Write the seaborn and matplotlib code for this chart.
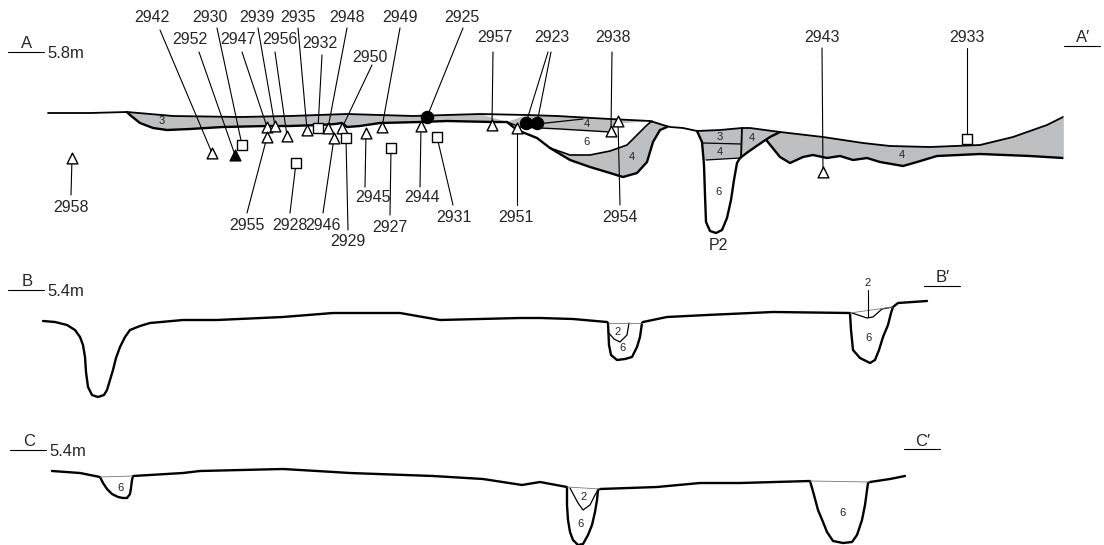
import pandas as pd
import matplotlib.pyplot as plt
import seaborn as sns

# section drawing, in drawing units (x along section, y downwards)

# ---- section A ----
a_surface_x = [48, 90, 127, 173, 240, 290, 347, 413, 480, 527, 557, 610, 650, 663, 670, 683, 697,
               720, 742, 750, 780, 823, 863, 890, 930, 980, 1013, 1047, 1063]
a_surface_y = [113, 113, 112, 116, 117, 116, 114, 116, 114, 115, 116, 119, 121, 125, 127, 128, 131,
               130, 128, 128, 132, 137, 143, 146, 147, 145, 137, 125, 117]

a_layer3_base_x = [127, 130, 140, 153, 167, 190, 223, 267, 290, 320, 335, 342, 347, 360, 380, 420, 447, 493, 507]
a_layer3_base_y = [112, 115, 123, 128, 130, 129, 127, 126, 126, 125, 124, 123, 127, 126, 123, 122, 121, 122, 122]

a_layer4_base_x = [507, 520, 560, 610, 615, 650]
a_layer4_base_y = [122, 127, 129, 132, 124, 121]

a_cut_x = [507, 517, 537, 550, 570, 590, 610, 623, 637, 647, 653, 660, 667]
a_cut_y = [122, 130, 138, 148, 160, 167, 173, 177, 173, 162, 142, 130, 127]

a_fill4_top_x = [550, 570, 590, 610, 627, 637, 647, 652, 658, 663, 667]
a_fill4_top_y = [148, 155, 155, 151, 145, 135, 125, 121, 122, 125, 127]

a_split_x = [537, 583]
a_split_y = [124, 119]

p2_x = [780, 770, 758, 748, 740, 737, 734, 731, 727, 722, 716, 710, 706, 705, 704, 702, 697]
p2_y = [132, 137, 145, 152, 158, 163, 180, 200, 218, 230, 233, 231, 222, 195, 165, 142, 131]

p2_layer_x = [703, 741]
p2_layer_y = [143, 144]
p2_base_x = [706, 740]
p2_base_y = [160, 158]
p2_wall_x = [742, 741]
p2_wall_y = [128, 158]

a_base4_x = [1063, 1030, 980, 937, 917, 903, 880, 867, 853, 840, 827, 813, 803, 790, 780, 767]
a_base4_y = [158, 156, 154, 156, 162, 166, 162, 158, 160, 156, 158, 155, 157, 163, 157, 141]

# ---- section B ----
b_surface_x = [43, 55, 67, 75, 80, 83, 85, 86, 88, 92, 98, 104, 107, 110, 113, 116, 120, 125, 130, 140,
               150, 183, 217, 283, 333, 400, 440, 520, 540,
               573, 607, 608, 609, 611, 617, 625, 632, 637, 640, 642, 643, 667, 707, 773, 850,
               851, 853, 860, 870, 875, 879, 883, 888, 891, 893, 898, 927]
b_surface_y = [321, 322, 325, 330, 337, 345, 357, 372, 387, 395, 397, 395, 390, 380, 370, 358, 347, 337, 330, 326,
               323, 320, 320, 317, 313, 313, 320, 318, 318,
               319, 322, 323, 345, 355, 360, 359, 357, 347, 337, 323, 322, 317, 315, 312, 313,
               330, 350, 358, 363, 360, 350, 337, 325, 313, 307, 303, 301]
b_fill2a_x = [608, 614, 620, 627, 629]
b_fill2a_y = [332, 339, 342, 335, 323]
b_fill2b_x = [852, 867, 873, 882, 893]
b_fill2b_y = [313, 318, 317, 309, 307]

# ---- section C ----
c_surface_x = [52, 80, 100, 103, 107, 112, 118, 123, 127, 130, 131, 132, 133, 183, 200, 283, 317, 350,
               433, 483, 522, 540,
               567, 567, 568, 570, 573, 578, 583, 588, 592, 595, 597, 598, 600, 657, 700, 740, 810,
               814, 818, 823, 827, 833, 843, 852, 857, 862, 865, 868, 870, 890, 905]
c_surface_y = [471, 473, 477, 483, 489, 494, 497, 498, 498, 494, 488, 480, 476, 473, 471, 469, 471, 473,
               476, 479, 485, 482,
               487, 505, 520, 532, 540, 545, 544, 535, 525, 512, 500, 490, 489, 487, 483, 483, 481,
               495, 510, 522, 532, 541, 543, 542, 535, 520, 505, 483, 482, 479, 476]
c_fill2_x = [570, 578, 583, 590, 595, 598]
c_fill2_y = [488, 503, 510, 505, 495, 490]

# ---- finds ----
find_id = ['2958', '2942', '2952', '2930', '2947', '2939', '2955', '2956', '2935', '2932', '2948',
           '2950', '2946', '2929', '2945', '2949', '2927', '2944', '2925', '2931', '2957', '2923',
           '2923', '2951', '2938', '2954', '2943', '2933', '2928']
find_kind = ['tri', 'tri', 'tri_f', 'sq', 'tri', 'tri', 'tri', 'tri', 'tri', 'sq', 'tri',
             'tri', 'tri', 'sq', 'tri', 'tri', 'sq', 'tri', 'dot', 'sq', 'tri', 'dot',
             'dot', 'tri', 'tri', 'tri', 'tri', 'sq', 'sq']
find_x = [72, 212, 235, 242, 267, 275, 267, 287, 307, 318, 328, 342, 334, 346, 366, 382, 391, 421,
          427, 437, 492, 526, 537, 517, 611, 618, 823, 967, 296]
find_y = [158, 153, 155, 145, 127, 126, 137, 136, 130, 128, 128, 128, 138, 138, 133, 127, 148, 126,
          117, 137, 125, 123, 123, 128, 131, 121, 172, 139, 163]
lead_x = [71, 160, 199, 217, 242, 258, 247, 275, 298, 322, 347, 372, 323, 348, 365, 400, 390, 420,
          463, 453, 493, 548, 551, 517, 612, 620, 822, 967, 290]
lead_y = [195, 30, 52, 28, 52, 28, 213, 52, 28, 55, 28, 65, 213, 230, 187, 28, 215, 187,
          28, 205, 52, 52, 52, 205, 52, 205, 48, 48, 213]

label_id = ['2942', '2930', '2939', '2935', '2948', '2952', '2947', '2956', '2932', '2950', '2949',
            '2925', '2957', '2923', '2938', '2943', '2933', '2958', '2955', '2928', '2946', '2929',
            '2945', '2944', '2927', '2931', '2951', '2954', 'P2']
label_x = [152, 210, 257, 298, 347, 190, 238, 280, 320, 370, 400, 462, 495, 552, 613, 822, 967, 71,
           247, 290, 323, 348, 373, 422, 390, 454, 516, 620, 718]
label_y = [18, 18, 18, 18, 18, 40, 40, 40, 44, 57, 18, 18, 38, 38, 38, 38, 38, 207,
           225, 225, 225, 242, 198, 198, 228, 217, 217, 217, 246]

layer_no = ['3', '4', '6', '4', '3', '4', '6', '4', '4', '2', '6', '2', '6', '6', '2', '6', '6']
layer_x = [162, 587, 587, 632, 720, 720, 718, 752, 902, 618, 623, 868, 868, 120, 584, 581, 842]
layer_y = [121, 124, 142, 157, 137, 152, 192, 138, 155, 332, 348, 283, 338, 488, 497, 524, 513]

sections = ['A', 'B', 'C']
section_level = ['5.8m', '5.4m', '5.4m']
sec_x = [27, 27, 29]
sec_y = [44, 282, 442]
end_x = [1083, 943, 923]
end_y = [38, 278, 441]

GREY = '#bebfc1'
sns.set_style('white')
plt.rcParams['font.family'] = ['Liberation Sans', 'DejaVu Sans']

fig = plt.figure(figsize=(11.04, 5.45), dpi=100)
ax = fig.add_axes([0, 0, 1, 1])
ax.set_xlim(0, 1104)
ax.set_ylim(545, 0)
ax.axis('off')


def outline(xs, ys, lw=1.7, color='black', z=3):
    sns.lineplot(x=xs, y=ys, sort=False, estimator=None, color=color, lw=lw, ax=ax, zorder=z)


def band(top_x, top_y, bot_x, bot_y):
    ax.fill(list(top_x) + list(bot_x)[::-1], list(top_y) + list(bot_y)[::-1],
            color=GREY, lw=0, zorder=1)


def surf_between(x0, x1):
    pts = [(x, y) for x, y in zip(a_surface_x, a_surface_y) if x0 <= x <= x1]
    return [p[0] for p in pts], [p[1] for p in pts]


# grey fills in section A
tx, ty = surf_between(127, 507)
band(tx, ty, a_layer3_base_x, a_layer3_base_y)
tx, ty = surf_between(507, 650)
band(tx, ty, a_layer4_base_x, a_layer4_base_y)
band(a_fill4_top_x, a_fill4_top_y, a_cut_x[3:], a_cut_y[3:])
tx, ty = surf_between(697, 742)
ax.fill(tx + [741, 740, 706, 704, 702], ty + [158, 158, 160, 160, 142], color=GREY, lw=0, zorder=1)
ax.fill([742, 750, 780, 770, 758, 748, 741], [128, 128, 132, 137, 145, 152, 158], color=GREY, lw=0, zorder=1)
tx, ty = surf_between(780, 1063)
band(tx, ty, a_base4_x[::-1], a_base4_y[::-1])
ax.fill([767, 770, 780], [141, 137, 132], color=GREY, lw=0, zorder=1)

# lines of section A
outline(a_surface_x, a_surface_y, lw=1.3)
outline(a_layer3_base_x, a_layer3_base_y)
outline(a_layer4_base_x[:4], a_layer4_base_y[:4], lw=1.0)
outline(a_cut_x, a_cut_y)
outline(a_fill4_top_x[:8], a_fill4_top_y[:8], lw=1.2)
outline(a_split_x, a_split_y, lw=0.9)
outline(p2_x, p2_y)
outline(p2_layer_x, p2_layer_y, lw=0.9)
outline(p2_base_x, p2_base_y, lw=0.9)
outline(p2_wall_x, p2_wall_y, lw=1.3)
outline(a_base4_x, a_base4_y)
outline([1063, 1063], [117, 158], lw=0.6, color=GREY)

# sections B and C
outline(b_surface_x, b_surface_y)
outline(b_fill2a_x, b_fill2a_y, lw=0.9)
outline(b_fill2b_x, b_fill2b_y, lw=0.9)
outline([608, 642], [323, 323], lw=0.6, color='#777777')
outline([850, 893], [313, 307], lw=0.6, color='#777777')
outline(c_surface_x, c_surface_y)
outline(c_fill2_x, c_fill2_y, lw=0.9)
outline([100, 133], [477, 476], lw=0.6, color='#777777')
outline([567, 600], [487, 489], lw=0.6, color='#777777')
outline([810, 870], [481, 482], lw=0.6, color='#777777')
outline([868, 868], [290, 317], lw=0.8)

# leaders and finds
for fx, fy, lx, ly in zip(find_x, find_y, lead_x, lead_y):
    ax.plot([lx, fx], [ly, fy], color='black', lw=0.8, zorder=4)

finds = pd.DataFrame({'id': find_id, 'kind': find_kind, 'x': find_x, 'y': find_y})
styles = {'tri': ('^', 'white', 60), 'tri_f': ('^', 'black', 60),
          'sq': ('s', 'white', 55), 'dot': ('o', 'black', 75)}
for kind, (mk, face, size) in styles.items():
    sub = finds[finds['kind'] == kind]
    sns.scatterplot(data=sub, x='x', y='y', marker=mk, color=face, edgecolor='black',
                    linewidth=1.0, s=size, ax=ax, zorder=5, legend=False)

for t, x, y in zip(label_id, label_x, label_y):
    ax.text(x, y, t, ha='center', va='center', fontsize=11.5, zorder=6)

for t, x, y in zip(layer_no, layer_x, layer_y):
    ax.text(x, y, t, ha='center', va='center', fontsize=8, color='#222222', zorder=6)

# section ends
for s, lev, x, y, ex, ey in zip(sections, section_level, sec_x, sec_y, end_x, end_y):
    ax.text(x, y, s, ha='center', va='center', fontsize=12)
    ax.plot([x - 19, x + 17], [y + 8, y + 8], color='black', lw=0.8)
    ax.text(x + 20, y + 10, lev, ha='left', va='center', fontsize=12)
    ax.text(ex, ey, s + '\u2032', ha='center', va='center', fontsize=12)
    ax.plot([ex - 19, ex + 17], [ey + 8, ey + 8], color='black', lw=0.8)

fig.savefig('out.png', dpi=100)
